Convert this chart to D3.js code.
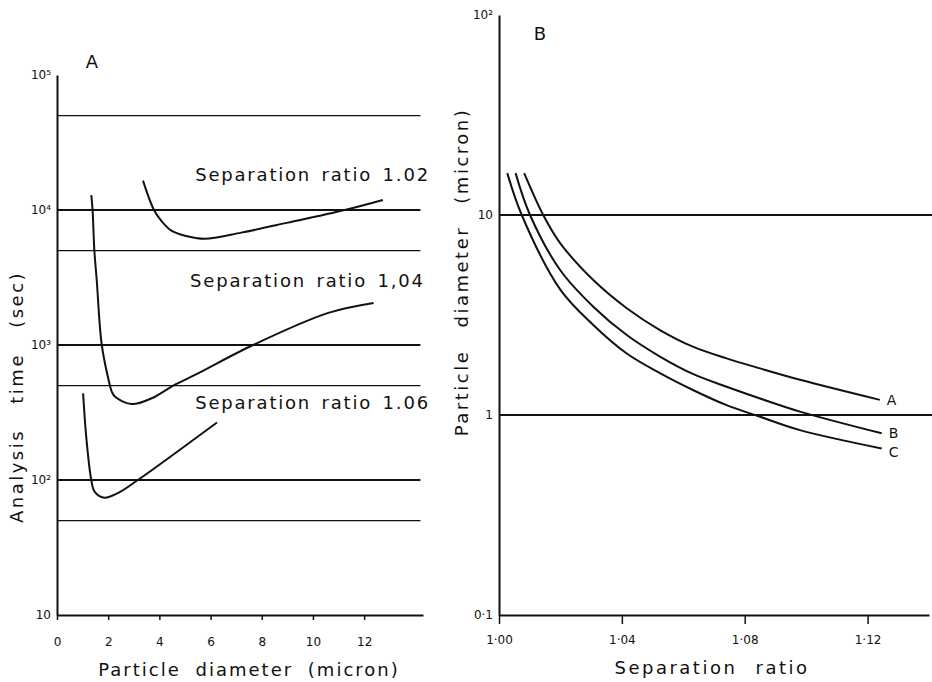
<!DOCTYPE html>
<html>
<head>
<meta charset="utf-8">
<script src="https://cdn.jsdelivr.net/npm/d3@7"></script>
<style>
  body { margin: 0; background: #fff; }
  svg { display: block; font-family: "DejaVu Sans", sans-serif; }
</style>
</head>
<body>
<div id="chart"></div>
<script>
// ===============================
// DATA — panel A (analysis time vs particle diameter)
// ===============================
const ticksAx = [0, 2, 4, 6, 8, 10, 12];
const ticksAy = [10, 1e2, 1e3, 1e4, 1e5];
const labelsAy = ["10", "10²", "10³", "10⁴", "10⁵"];
const gridAMajor = [1e2, 1e3, 1e4];
const gridAMinor = [50, 500, 5e3, 5e4];

const ratio102 = [
  [3.36, 16500], [3.79, 10000], [4.1, 8200], [4.47, 7030], [5.0, 6450],
  [5.77, 6120], [7.2, 6800], [9.02, 8060], [11.24, 10000], [12.73, 11870]
];
const ratio104 = [
  [1.34, 12900], [1.39, 10000], [1.46, 5000], [1.55, 3070], [1.75, 1000],
  [2.07, 500], [2.14, 451], [2.27, 414], [2.92, 365], [3.7, 403],
  [4.54, 500], [5.39, 600], [7.66, 1000], [10.6, 1730], [12.37, 2050]
];
const ratio106 = [
  [1.02, 438], [1.15, 201], [1.34, 100], [1.47, 82], [1.84, 74],
  [2.38, 80], [3.16, 100], [6.25, 267]
];
const seriesA = [
  { name: "Separation ratio 1.02", pts: ratio102 },
  { name: "Separation ratio 1,04", pts: ratio104 },
  { name: "Separation ratio 1.06", pts: ratio106 }
];

// ===============================
// DATA — panel B (particle diameter vs separation ratio)
// ===============================
const ticksBx = [1.00, 1.04, 1.08, 1.12];
const labelsBx = ["1·00", "1·04", "1·08", "1·12"];
const ticksBy = [0.1, 1, 10, 100];
const labelsBy = ["0·1", "1", "10", "10²"];
const gridB = [1, 10];

const curveA = [
  [1.0082, 16.2], [1.0144, 10], [1.0199, 7.24], [1.0307, 4.73], [1.0416, 3.42],
  [1.0524, 2.66], [1.0633, 2.19], [1.0741, 1.92], [1.085, 1.71], [1.098, 1.5],
  [1.124, 1.19]
];
const curveB = [
  [1.0054, 16.2], [1.0101, 10], [1.0199, 5.31], [1.0307, 3.48], [1.0416, 2.51],
  [1.0524, 1.96], [1.0633, 1.6], [1.0741, 1.385], [1.085, 1.21], [1.098, 1.04],
  [1.1246, 0.81]
];
const curveC = [
  [1.0027, 16.2], [1.0074, 10], [1.0199, 4.25], [1.0307, 2.82], [1.0416, 2.03],
  [1.0524, 1.62], [1.0633, 1.33], [1.0741, 1.12], [1.085, 0.98], [1.098, 0.84],
  [1.1246, 0.68]
];
const seriesB = [
  { name: "A", pts: curveA },
  { name: "B", pts: curveB },
  { name: "C", pts: curveC }
];

// ===============================
// SVG
// ===============================
const svg = d3.select("#chart").append("svg")
  .attr("width", 932).attr("height", 682);

const ink = "#111";

function title(x, y, rot, txt, ls, ws) {
  svg.append("text")
    .attr("transform", `translate(${x},${y}) rotate(${rot})`)
    .attr("text-anchor", "middle")
    .attr("font-size", 18)
    .attr("letter-spacing", ls)
    .attr("word-spacing", ws)
    .attr("fill", ink)
    .text(txt);
}

// ===============================
// PANEL A
// ===============================
const xA = d3.scaleLinear().domain([0, 14.3]).range([57, 423]);
const yA = d3.scaleLog().domain([10, 1e5]).range([615, 75]);

// grid lines
svg.append("g").selectAll("line").data(gridAMinor).join("line")
  .attr("x1", xA(0)).attr("x2", xA(14.2))
  .attr("y1", d => yA(d)).attr("y2", d => yA(d))
  .attr("stroke", ink).attr("stroke-width", 1.3);

svg.append("g").selectAll("line").data(gridAMajor).join("line")
  .attr("x1", xA(0)).attr("x2", xA(14.2))
  .attr("y1", d => yA(d)).attr("y2", d => yA(d))
  .attr("stroke", ink).attr("stroke-width", 2);

// x axis
svg.append("g")
  .attr("transform", `translate(0,${yA(10)})`)
  .call(d3.axisBottom(xA).tickValues(ticksAx).tickSize(5).tickPadding(17).tickSizeOuter(0))
  .call(g => g.select(".domain").attr("stroke", ink).attr("stroke-width", 2))
  .call(g => g.selectAll(".tick line").attr("stroke", ink).attr("stroke-width", 1.5))
  .call(g => g.selectAll(".tick text").attr("fill", ink).attr("font-size", 12)
    .attr("font-family", "DejaVu Sans"));

// y axis
svg.append("g")
  .attr("transform", `translate(${xA(0)},0)`)
  .call(d3.axisLeft(yA).tickValues(ticksAy).tickSize(0).tickPadding(6)
    .tickFormat((d, i) => labelsAy[i]))
  .call(g => g.select(".domain").attr("stroke", ink).attr("stroke-width", 2))
  .call(g => g.selectAll(".tick text").attr("fill", ink).attr("font-size", 12)
    .attr("font-family", "DejaVu Sans"));

// curves
const lineA = d3.line()
  .x(d => xA(d[0]))
  .y(d => yA(d[1]))
  .curve(d3.curveCatmullRom.alpha(0.5));

svg.append("g").selectAll("path").data(seriesA).join("path")
  .attr("d", d => lineA(d.pts))
  .attr("fill", "none")
  .attr("stroke", ink)
  .attr("stroke-width", 2);

// curve labels
const labelPosA = [[5.4, 16400], [5.2, 2690], [5.4, 336]];
svg.append("g").selectAll("text").data(seriesA).join("text")
  .attr("x", (d, i) => xA(labelPosA[i][0]))
  .attr("y", (d, i) => yA(labelPosA[i][1]))
  .attr("font-size", 18)
  .attr("letter-spacing", 1.8)
  .attr("word-spacing", 3)
  .attr("fill", ink)
  .text(d => d.name);

// panel letter + axis titles
svg.append("text").attr("x", 92).attr("y", 68).attr("text-anchor", "middle")
  .attr("font-size", 18).attr("fill", ink).text("A");

title(249, 676, 0, "Particle diameter (micron)", 2, 7);
title(23, 397, -90, "Analysis time (sec)", 2.5, 17);

// ===============================
// PANEL B
// ===============================
const xB = d3.scaleLinear().domain([1.0, 1.14]).range([499, 929]);
const yB = d3.scaleLog().domain([0.1, 100]).range([615, 15]);

svg.append("g").selectAll("line").data(gridB).join("line")
  .attr("x1", xB(1.0)).attr("x2", 932)
  .attr("y1", d => yB(d)).attr("y2", d => yB(d))
  .attr("stroke", ink).attr("stroke-width", 2);

svg.append("g")
  .attr("transform", `translate(0,${yB(0.1)})`)
  .call(d3.axisBottom(xB).tickValues(ticksBx).tickSize(9).tickPadding(11).tickSizeOuter(0)
    .tickFormat((d, i) => labelsBx[i]))
  .call(g => g.select(".domain").attr("stroke", ink).attr("stroke-width", 2))
  .call(g => g.selectAll(".tick line").attr("stroke", ink).attr("stroke-width", 1.5))
  .call(g => g.selectAll(".tick text").attr("fill", ink).attr("font-size", 12)
    .attr("font-family", "DejaVu Sans"));

svg.append("g")
  .attr("transform", `translate(${xB(1.0)},0)`)
  .call(d3.axisLeft(yB).tickValues(ticksBy).tickSize(0).tickPadding(6)
    .tickFormat((d, i) => labelsBy[i]))
  .call(g => g.select(".domain").attr("stroke", ink).attr("stroke-width", 2))
  .call(g => g.selectAll(".tick text").attr("fill", ink).attr("font-size", 12)
    .attr("font-family", "DejaVu Sans"));

const lineB = d3.line()
  .x(d => xB(d[0]))
  .y(d => yB(d[1]))
  .curve(d3.curveCatmullRom.alpha(0.5));

svg.append("g").selectAll("path").data(seriesB).join("path")
  .attr("d", d => lineB(d.pts))
  .attr("fill", "none")
  .attr("stroke", ink)
  .attr("stroke-width", 2);

// end labels A / B / C
const labelDy = [0, 0, 4];
svg.append("g").selectAll("text").data(seriesB).join("text")
  .attr("x", d => xB(d.pts[d.pts.length - 1][0]) + 7)
  .attr("y", (d, i) => yB(d.pts[d.pts.length - 1][1]) + 5 + labelDy[i])
  .attr("font-size", 14)
  .attr("fill", ink)
  .text(d => d.name);

svg.append("text").attr("x", 540).attr("y", 40).attr("text-anchor", "middle")
  .attr("font-size", 18).attr("fill", ink).text("B");

title(712, 674, 0, "Separation ratio", 2.5, 10);
title(468, 272, -90, "Particle diameter (micron)", 2.5, 14);
</script>
</body>
</html>
